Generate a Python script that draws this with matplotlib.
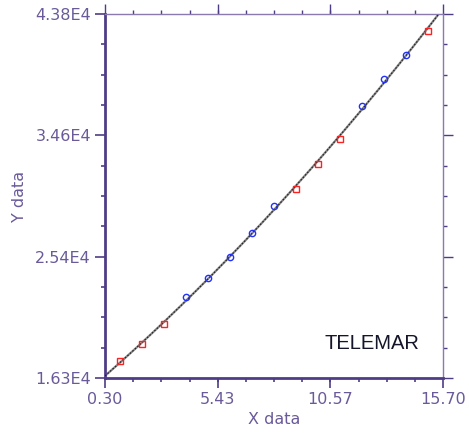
import numpy as np
import matplotlib
matplotlib.use("Agg")
import matplotlib.pyplot as plt
from matplotlib.ticker import FixedLocator, FixedFormatter

# ---- data ----
x_red = [1, 2, 3, 9, 10, 11, 15]
y_red = [17580, 18850, 20380, 30560, 32450, 34360, 42520]
x_blue = [4, 5, 6, 7, 8, 12, 13, 14]
y_blue = [22440, 23830, 25460, 27230, 29290, 36850, 38870, 40700]

x_ticks = [0.30, 5.43, 10.57, 15.70]
x_tick_labels = ["0.30", "5.43", "10.57", "15.70"]
y_ticks = [16300, 25466.7, 34633.3, 43800]
y_tick_labels = ["1.63E4", "2.54E4", "3.46E4", "4.38E4"]

AXIS = "#4f3c86"
AXIS_LIGHT = "#8a7ab0"
LABEL = "#6a5a9a"

# quadratic fit through all points for the trend curve
xs_all = np.array(x_red + x_blue, dtype=float)
ys_all = np.array(y_red + y_blue, dtype=float)
coef = np.polyfit(xs_all, ys_all, 2)
xf = np.linspace(0.30, 15.60, 200)
yf = np.polyval(coef, xf)

fig = plt.figure(figsize=(4.69, 4.36), dpi=100)
ax = fig.add_axes([105 / 469, 1 - 378 / 436, 338 / 469, 364 / 436])

ax.plot(xf, yf, color="#888888", lw=1.6, zorder=2)
ax.plot(xf, yf, color="#222222", lw=0.8, ls=(0, (1.5, 1.5)), zorder=3)
ax.plot(x_red, y_red, ls="none", marker="s", ms=4.5, mfc="none",
        mec="#ff2020", mew=1.0, zorder=4)
ax.plot(x_blue, y_blue, ls="none", marker="o", ms=4.5, mfc="none",
        mec="#2030ff", mew=1.0, zorder=4)

ax.set_xlim(0.30, 15.70)
ax.set_ylim(16300, 43800)

ax.xaxis.set_major_locator(FixedLocator(x_ticks))
ax.xaxis.set_major_formatter(FixedFormatter(x_tick_labels))
ax.xaxis.set_minor_locator(FixedLocator(np.linspace(0.30, 15.70, 13)))
ax.yaxis.set_major_locator(FixedLocator(y_ticks))
ax.yaxis.set_major_formatter(FixedFormatter(y_tick_labels))
ax.yaxis.set_minor_locator(FixedLocator(np.linspace(16300, 43800, 13)))

for side in ["left", "bottom"]:
    ax.spines[side].set_color(AXIS)
    ax.spines[side].set_linewidth(2.0)
for side in ["top", "right"]:
    ax.spines[side].set_color(AXIS_LIGHT)
    ax.spines[side].set_linewidth(1.0)

ax.tick_params(which="both", direction="out", top=True, right=True,
               color=AXIS, labelcolor=LABEL, labelsize=11.5)
ax.tick_params(which="major", length=7, width=1.2, pad=3)
ax.tick_params(which="minor", length=3, width=1.2)

# top / right ticks are lighter, like their spines
for axis in (ax.xaxis, ax.yaxis):
    for t in axis.get_major_ticks() + axis.get_minor_ticks():
        t.tick2line.set_color(AXIS_LIGHT)
        t.tick2line.set_markeredgewidth(1.0)

ax.set_xlabel("X data", color=LABEL, fontsize=11.5, labelpad=4)
ax.set_ylabel("Y data", color=LABEL, fontsize=11.5, labelpad=6)

ax.text(0.79, 0.096, "TELEMAR", transform=ax.transAxes, ha="center",
        va="center", fontsize=14.5, family="Liberation Sans", color="#15152a")

fig.savefig("out.png", dpi=100)
